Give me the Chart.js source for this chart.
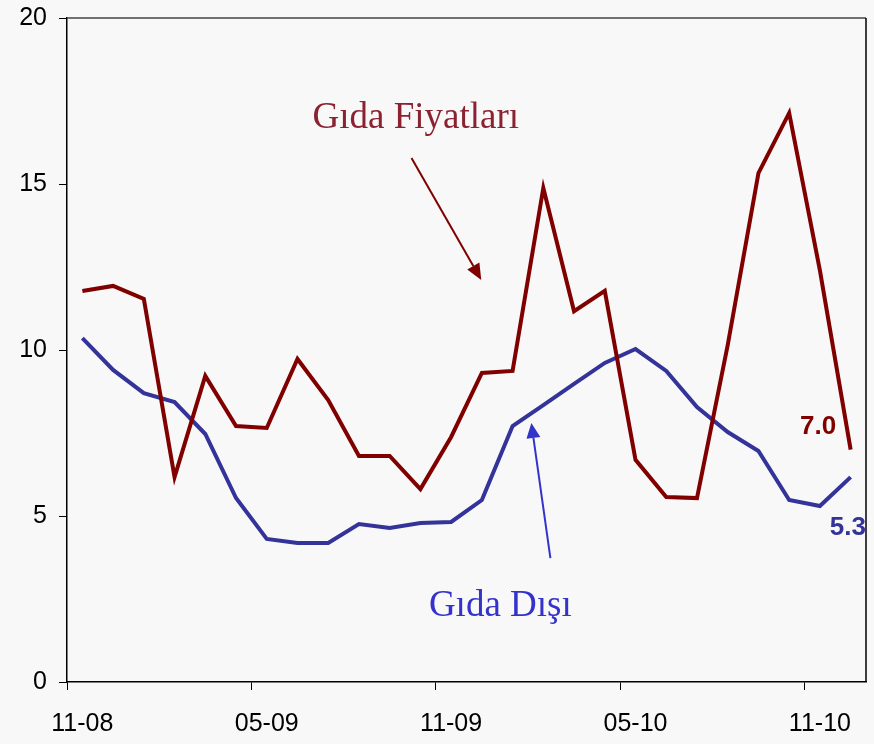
<!DOCTYPE html>
<html>
<head>
<meta charset="utf-8">
<script src="https://cdn.jsdelivr.net/npm/chart.js@4/dist/chart.umd.min.js"></script>
<style>
  html, body { margin: 0; padding: 0; background: #f8f8f8; }
  canvas { display: block; }
</style>
</head>
<body>
<canvas id="chart" width="874" height="744"></canvas>
<script>
// Monthly periods, Nov 2008 – Dec 2010
const months = [
  '11-08','12-08','01-09','02-09','03-09','04-09','05-09','06-09','07-09','08-09','09-09','10-09',
  '11-09','12-09','01-10','02-10','03-10','04-10','05-10','06-10','07-10','08-10','09-10','10-10',
  '11-10','12-10'
];

// Food prices, annual % change
const gidaFiyatlari = [
  11.78, 11.93, 11.54, 6.17, 9.22, 7.71, 7.65, 9.73, 8.49, 6.81, 6.81, 5.81,
  7.38, 9.31, 9.37, 14.88, 11.17, 11.78, 6.69, 5.57, 5.54, 10.15, 15.33, 17.14,
  12.4, 7.0
];

// Non-food, annual % change
const gidaDisi = [
  10.36, 9.40, 8.70, 8.43, 7.47, 5.54, 4.31, 4.19, 4.19, 4.76, 4.64, 4.79,
  4.82, 5.48, 7.71, 8.34, 8.98, 9.61, 10.03, 9.37, 8.28, 7.53, 6.96, 5.48,
  5.3, 6.17
];

// Axis ticks
const yTicks = [0, 5, 10, 15, 20];
const labelEvery = 6;

const RED = '#800000';
const RED_TEXT = '#8b2232';
const BLUE = '#333399';
const BLUE_TEXT = '#3333cc';

function arrow(ctx, x1, y1, x2, y2, color, len, half) {
  const a = Math.atan2(y2 - y1, x2 - x1);
  const bx = x2 - len * Math.cos(a), by = y2 - len * Math.sin(a);
  ctx.save();
  ctx.strokeStyle = color;
  ctx.fillStyle = color;
  ctx.lineWidth = 2;
  ctx.beginPath();
  ctx.moveTo(x1, y1);
  ctx.lineTo(bx, by);
  ctx.stroke();
  ctx.beginPath();
  ctx.moveTo(x2, y2);
  ctx.lineTo(bx + half * Math.sin(a), by - half * Math.cos(a));
  ctx.lineTo(bx - half * Math.sin(a), by + half * Math.cos(a));
  ctx.closePath();
  ctx.fill();
  ctx.restore();
}

const background = {
  id: 'background',
  beforeDraw(chart) {
    const { ctx, width, height } = chart;
    ctx.save();
    ctx.fillStyle = '#f8f8f8';
    ctx.fillRect(0, 0, width, height);
    ctx.restore();
  }
};

const frame = {
  id: 'frame',
  beforeDatasetsDraw(chart) {
    const { ctx, chartArea: a } = chart;
    ctx.save();
    ctx.lineWidth = 1.5;
    ctx.strokeStyle = '#444';
    ctx.beginPath();
    ctx.moveTo(a.left, a.top);
    ctx.lineTo(a.right, a.top);
    ctx.stroke();
    ctx.strokeStyle = '#000';
    ctx.beginPath();
    ctx.moveTo(a.right, a.top);
    ctx.lineTo(a.right, a.bottom);
    ctx.stroke();
    ctx.restore();
  }
};

const notes = {
  id: 'notes',
  afterDraw(chart) {
    const { ctx } = chart;
    const xs = chart.scales.x, ys = chart.scales.y;
    const px = v => xs.getPixelForValue(v);
    const py = v => ys.getPixelForValue(v);
    ctx.save();
    ctx.textBaseline = 'alphabetic';
    ctx.textAlign = 'center';
    ctx.font = '37px "Liberation Serif", "Times New Roman", serif';
    ctx.fillStyle = RED_TEXT;
    ctx.fillText('Gıda Fiyatları', px(10.85), py(16.69));
    ctx.fillStyle = BLUE_TEXT;
    ctx.fillText('Gıda Dışı', px(13.6), py(1.99));

    arrow(ctx, px(10.71), py(15.78), px(12.98), py(12.11), RED, 16, 7);
    arrow(ctx, px(15.23), py(3.73), px(14.61), py(7.80), BLUE_TEXT, 15, 7);

    ctx.font = 'bold 26px "Liberation Sans", Arial, sans-serif';
    ctx.textAlign = 'right';
    ctx.textBaseline = 'middle';
    ctx.fillStyle = RED;
    ctx.fillText(gidaFiyatlari[gidaFiyatlari.length - 1].toFixed(1), px(24.53), py(7.68));
    ctx.fillStyle = BLUE;
    ctx.fillText(gidaDisi[24].toFixed(1), px(25.5), py(4.64));
    ctx.restore();
  }
};

new Chart(document.getElementById('chart'), {
  type: 'line',
  data: {
    labels: months,
    datasets: [
      {
        label: 'Gıda Fiyatları',
        data: gidaFiyatlari,
        borderColor: RED,
        borderWidth: 4,
        pointRadius: 0,
        tension: 0,
        borderJoinStyle: 'miter'
      },
      {
        label: 'Gıda Dışı',
        data: gidaDisi,
        borderColor: BLUE,
        borderWidth: 4,
        pointRadius: 0,
        tension: 0,
        borderJoinStyle: 'miter'
      }
    ]
  },
  options: {
    responsive: false,
    animation: false,
    events: [],
    layout: { padding: { top: 18, right: 8, left: 0, bottom: 0 } },
    plugins: {
      legend: { display: false },
      tooltip: { enabled: false }
    },
    scales: {
      x: {
        type: 'category',
        offset: true,
        grid: {
          offset: true,
          drawOnChartArea: false,
          drawTicks: true,
          tickLength: 8,
          lineWidth: 1,
          color: ctx => (ctx.index % labelEvery === 0 && ctx.index < months.length) ? '#000' : 'rgba(0,0,0,0)'
        },
        border: { display: true, color: '#000', width: 1.5 },
        ticks: {
          autoSkip: false,
          maxRotation: 0,
          minRotation: 0,
          padding: 19,
          color: '#000',
          font: { family: '"Liberation Sans", Arial, sans-serif', size: 25 },
          callback: (v, i) => (i % labelEvery === 0 ? months[i] : '')
        },
        afterFit: s => { s.height = 62; s.paddingLeft = 0; s.paddingRight = 0; }
      },
      y: {
        min: 0,
        max: 20,
        afterBuildTicks: s => { s.ticks = yTicks.map(v => ({ value: v })); },
        grid: {
          drawOnChartArea: false,
          drawTicks: true,
          tickLength: 8,
          color: '#000'
        },
        border: { display: true, color: '#000', width: 1.5 },
        ticks: {
          padding: 12,
          color: '#000',
          font: { family: '"Liberation Sans", Arial, sans-serif', size: 25 }
        },
        afterFit: s => { s.width = 67; s.paddingTop = 0; s.paddingBottom = 0; }
      }
    }
  },
  plugins: [background, frame, notes]
});
</script>
</body>
</html>
